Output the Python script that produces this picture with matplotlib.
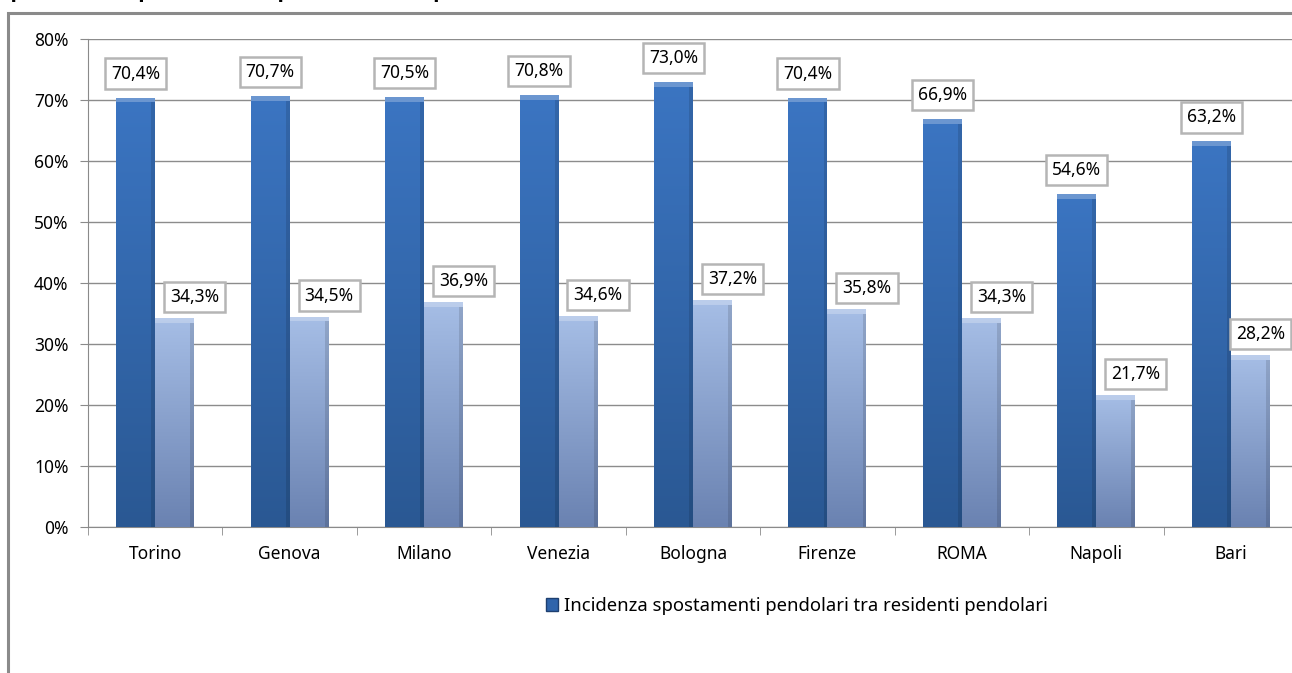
import numpy as np
import matplotlib.pyplot as plt
from matplotlib.colors import LinearSegmentedColormap
from matplotlib.patches import Rectangle, Patch

plt.rcParams['font.family'] = ['Noto Sans', 'DejaVu Sans']

cities = ["Torino", "Genova", "Milano", "Venezia", "Bologna", "Firenze", "ROMA", "Napoli", "Bari"]
incidenza = [70.4, 70.7, 70.5, 70.8, 73.0, 70.4, 66.9, 54.6, 63.2]
secondo = [34.3, 34.5, 36.9, 34.6, 37.2, 35.8, 34.3, 21.7, 28.2]
legend_label = "Incidenza spostamenti pendolari tra residenti pendolari"
title = "spostamenti quotidiani dei pendolari: occupati sul totale dei residenti in mobilità"
yticks = [0, 10, 20, 30, 40, 50, 60, 70, 80]

W, H = 1292, 673
fig = plt.figure(figsize=(W / 100, H / 100), dpi=100)

# outer frame (clipped at right and bottom like the screenshot)
fig.patches.append(Rectangle((8 / W, -0.1), 1.2, 1 - 13 / H + 0.1, transform=fig.transFigure,
                             fill=False, edgecolor='#8a8a8a', linewidth=2.2))
fig.text(0.0, 1 + 17 / H, title, fontsize=13, fontweight='bold', va='top', ha='left',
         family='DejaVu Sans')

ax = fig.add_axes([88 / W, 1 - 527 / H, 1210 / W, 488 / H])
x = np.arange(len(cities))
bw = 0.29

dark = LinearSegmentedColormap.from_list("d", ["#2a5893", "#3b75c2"])
light = LinearSegmentedColormap.from_list("l", ["#6a82b1", "#a6bee6"])

b1 = ax.bar(x - bw / 2, incidenza, bw, color='#3368b0', zorder=3)
b2 = ax.bar(x + bw / 2, secondo, bw, color='#8aa3d0', zorder=3)

grad = np.linspace(0, 1, 256).reshape(-1, 1)
for bars, cmap in ((b1, dark), (b2, light)):
    for p in bars:
        bx, by = p.get_x(), p.get_y()
        w, h = p.get_width(), p.get_height()
        im = ax.imshow(grad, extent=[bx, bx + w, by, by + h], origin='lower',
                       cmap=cmap, aspect='auto', zorder=3.5)
        im.set_clip_path(p)
        # lighter bevel at top
        ax.add_patch(Rectangle((bx, by + h - 0.8), w, 0.8, color='white', alpha=0.25,
                               linewidth=0, zorder=4))
        # darker right edge
        ax.add_patch(Rectangle((bx + w * 0.9, by), w * 0.1, h - 0.8, color='black', alpha=0.12,
                               linewidth=0, zorder=4))

box = dict(boxstyle='square,pad=0.35', facecolor='white', edgecolor='#b5b5b5', linewidth=1.8)
for xi, v in zip(x, incidenza):
    ax.annotate(f"{v:.1f}%".replace('.', ','), (xi - bw / 2, v), xytext=(0, 15),
                textcoords='offset pixels', ha='center', va='bottom', fontsize=12.5,
                bbox=box, zorder=6, annotation_clip=False)
for i, (xi, v) in enumerate(zip(x, secondo)):
    dx = 10 if i == len(x) - 1 else 20  # last label pushed back inside the chart
    ax.annotate(f"{v:.1f}%".replace('.', ','), (xi + bw / 2, v), xytext=(dx, 12),
                textcoords='offset pixels', ha='center', va='bottom', fontsize=12.5,
                bbox=box, zorder=6, annotation_clip=False)

ax.set_xlim(-0.5, len(cities) - 0.5)
ax.set_ylim(0, 80)
ax.set_yticks(yticks)
ax.set_yticklabels([f"{t}%" for t in yticks], fontsize=12.5)
ax.set_xticks(x)
ax.set_xticklabels(cities, fontsize=12.5)
ax.set_xticks(np.arange(-0.5, len(cities), 1), minor=True)
ax.tick_params(axis='x', which='major', length=0, pad=13)
ax.tick_params(axis='x', which='minor', length=6, color='#8a8a8a')
ax.tick_params(axis='y', length=6, color='#8a8a8a', pad=8)
ax.yaxis.grid(True, color='#8c8c8c', linewidth=1, zorder=0)
ax.set_axisbelow(True)
for s in ('top', 'right'):
    ax.spines[s].set_visible(False)
for s in ('left', 'bottom'):
    ax.spines[s].set_color('#8a8a8a')

fig.legend(handles=[Patch(facecolor='#2f64ab', edgecolor='#1e3f70', label=legend_label)],
           loc='center', bbox_to_anchor=(797 / W, 1 - 606 / H), frameon=False,
           fontsize=13.3, handlelength=0.65, handleheight=0.65, handletextpad=0.3)

fig.savefig("out.png", dpi=100)
